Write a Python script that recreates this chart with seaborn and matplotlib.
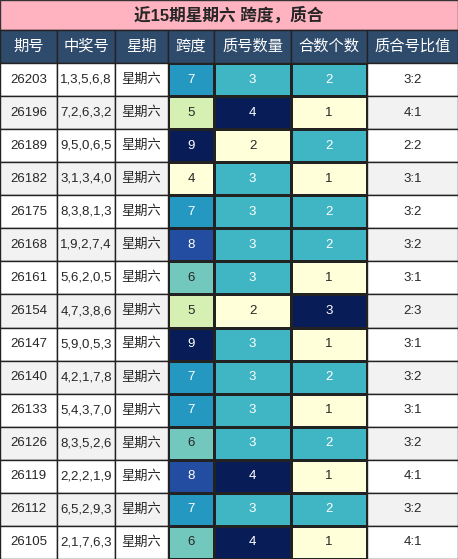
import matplotlib
matplotlib.use('Agg')
import matplotlib.pyplot as plt
import seaborn as sns
import numpy as np
from matplotlib.patches import Rectangle

sns.set_style('white')
plt.rcParams['font.family'] = ['Liberation Sans', 'Noto Sans CJK SC', 'DejaVu Sans']

# 数据
title = '近15期星期六 跨度，质合'
headers = ['期号', '中奖号', '星期', '跨度', '质号数量', '合数个数', '质合号比值']
periods = ['26203', '26196', '26189', '26182', '26175', '26168', '26161', '26154',
           '26147', '26140', '26133', '26126', '26119', '26112', '26105']
numbers = ['1,3,5,6,8', '7,2,6,3,2', '9,5,0,6,5', '3,1,3,4,0', '8,3,8,1,3',
           '1,9,2,7,4', '5,6,2,0,5', '4,7,3,8,6', '5,9,0,5,3', '4,2,1,7,8',
           '5,4,3,7,0', '8,3,5,2,6', '2,2,2,1,9', '6,5,2,9,3', '2,1,7,6,3']
weekday = ['星期六'] * 15
span = [7, 5, 9, 4, 7, 8, 6, 5, 9, 7, 7, 6, 8, 7, 6]
prime_cnt = [3, 4, 2, 3, 3, 3, 3, 2, 3, 3, 3, 3, 4, 3, 4]
comp_cnt = [2, 1, 2, 1, 2, 2, 1, 3, 1, 2, 1, 2, 1, 2, 1]
ratio = ['3:2', '4:1', '2:2', '3:1', '3:2', '3:2', '3:1', '2:3',
         '3:1', '3:2', '3:1', '3:2', '4:1', '3:2', '4:1']

W, H = 458, 559
col_x = [0, 57, 115, 168, 214, 291, 367, 458]
title_h, head_h = 30, 33
row_h = (H - title_h - head_h) / len(periods)
body_top = title_h + head_h

fig = plt.figure(figsize=(W / 100, H / 100), dpi=100)
bg = fig.add_axes([0, 0, 1, 1])
bg.set_xlim(0, W)
bg.set_ylim(H, 0)
bg.axis('off')

# 标题
bg.add_patch(Rectangle((0, 0), W, title_h, fc='#ffb3c1', ec='#333333', lw=1))
bg.text(W / 2, title_h / 2, title, ha='center', va='center', fontsize=12, fontweight='bold')

# 表头
for i, h in enumerate(headers):
    bg.add_patch(Rectangle((col_x[i], title_h), col_x[i + 1] - col_x[i], head_h,
                           fc='#2f4b6c', ec='#222222', lw=1))
    bg.text((col_x[i] + col_x[i + 1]) / 2, title_h + head_h / 2, h,
            ha='center', va='center', color='white', fontsize=11)

# 普通列
plain = {0: periods, 1: numbers, 2: weekday, 6: ratio}
for r in range(len(periods)):
    y = body_top + r * row_h
    fc = 'white' if r % 2 == 0 else '#f2f2f2'
    for c, vals in plain.items():
        bg.add_patch(Rectangle((col_x[c], y), col_x[c + 1] - col_x[c], row_h,
                               fc=fc, ec='#222222', lw=1))
        bg.text((col_x[c] + col_x[c + 1]) / 2, y + row_h / 2, vals[r],
                ha='center', va='center', fontsize=9.5)

# 热力列
for c, vals in {3: span, 4: prime_cnt, 5: comp_cnt}.items():
    ax = fig.add_axes([col_x[c] / W, 0, (col_x[c + 1] - col_x[c]) / W, (H - body_top) / H])
    sns.heatmap(np.array(vals).reshape(-1, 1), ax=ax, cmap='YlGnBu', cbar=False,
                annot=True, fmt='d', linewidths=1, linecolor='#222222',
                annot_kws={'fontsize': 9.5}, xticklabels=False, yticklabels=False)
    ax.set_xlabel('')
    ax.set_ylabel('')

fig.savefig('out.png', dpi=100)
